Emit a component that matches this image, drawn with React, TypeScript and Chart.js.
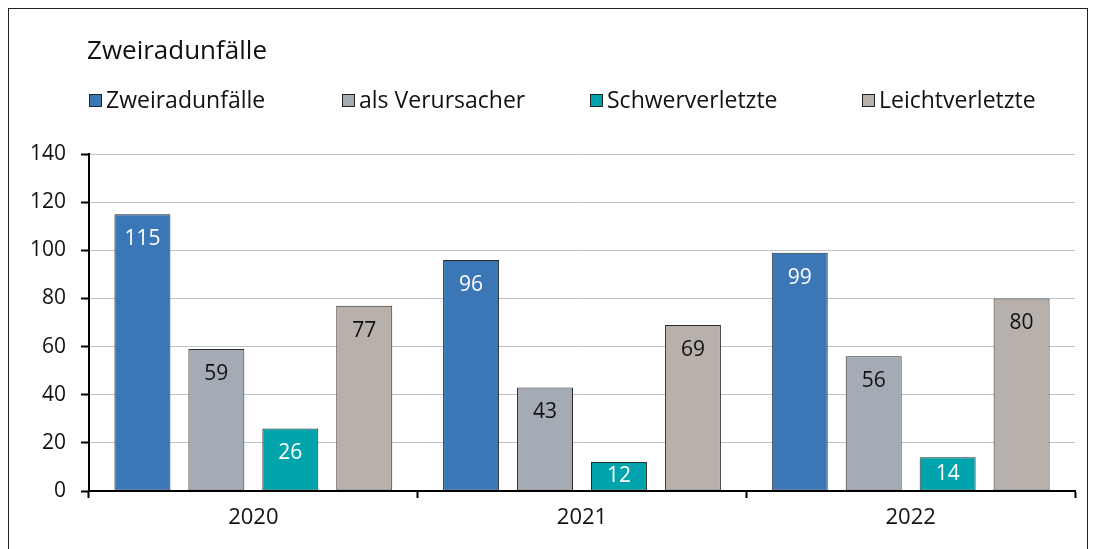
import React, { useEffect, useRef } from "react";
import { Chart, registerables } from "chart.js";

Chart.register(...registerables);

const categories = ["2020", "2021", "2022"];
const seriesNames = ["Zweiradunfälle", "als Verursacher", "Schwerverletzte", "Leichtverletzte"];
const zweiradunfaelle = [115, 96, 99];
const alsVerursacher = [59, 43, 56];
const schwerverletzte = [26, 12, 14];
const leichtverletzte = [77, 69, 80];
const seriesColors = ["#3B77B7", "#A5ABB4", "#00A4AC", "#B8B0AB"];
const labelColors = ["#FFFFFF", "#111111", "#FFFFFF", "#111111"];
const chartTitle = "Zweiradunfälle";

const FONT = "'Open Sans', Lato, sans-serif";
const legendX = [80, 333, 581, 853];

const overlayPlugin = {
  id: "overlay",
  afterDatasetsDraw(chart: any) {
    const ctx = chart.ctx;
    ctx.save();
    // data labels
    chart.data.datasets.forEach((ds: any, di: number) => {
      const meta = chart.getDatasetMeta(di);
      meta.data.forEach((bar: any, i: number) => {
        ctx.fillStyle = labelColors[di];
        ctx.font = `21px ${FONT}`;
        ctx.textAlign = "center";
        ctx.textBaseline = "middle";
        const y = Math.min(bar.y + 25, (bar.y + bar.base) / 2);
        ctx.fillText(String(ds.data[i]), bar.x, y);
      });
    });
    // title
    ctx.fillStyle = "#111111";
    ctx.font = `26px ${FONT}`;
    ctx.textAlign = "left";
    ctx.textBaseline = "middle";
    ctx.fillText(chartTitle, 78, 43);
    // legend
    seriesNames.forEach((name, i) => {
      const x = legendX[i];
      ctx.fillStyle = seriesColors[i];
      ctx.fillRect(x + 0.5, 85.5, 12, 12);
      ctx.strokeStyle = "#222222";
      ctx.lineWidth = 1;
      ctx.strokeRect(x + 0.5, 85.5, 12, 12);
      ctx.fillStyle = "#111111";
      ctx.font = `23px ${FONT}`;
      ctx.fillText(name, x + 17, 92);
    });
    ctx.restore();
  },
};

export default function App() {
  const ref = useRef<HTMLCanvasElement>(null);
  useEffect(() => {
    if (!ref.current) return;
    const values = [zweiradunfaelle, alsVerursacher, schwerverletzte, leichtverletzte];
    const chart = new Chart(ref.current, {
      type: "bar",
      data: {
        labels: categories,
        datasets: seriesNames.map((name, i) => ({
          label: name,
          data: values[i],
          backgroundColor: seriesColors[i],
          borderColor: "#2A2A2A",
          borderWidth: 1,
          borderSkipped: false,
          categoryPercentage: 0.9,
          barPercentage: 0.757,
        })),
      },
      options: {
        responsive: false,
        animation: false,
        layout: { padding: { left: 0, right: 12, top: 145, bottom: 0 } },
        plugins: {
          legend: { display: false },
          title: { display: false },
          tooltip: { enabled: false },
        },
        scales: {
          x: {
            offset: true,
            grid: {
              offset: true,
              drawOnChartArea: false,
              drawTicks: true,
              tickLength: 7,
              tickColor: "#000000",
              tickWidth: 2,
            },
            border: { color: "#000000", width: 2, z: 1 },
            ticks: { color: "#111111", font: { family: FONT, size: 22 }, padding: 7 },
            afterFit: (s: any) => { s.height = 58; },
          },
          y: {
            min: 0,
            max: 140,
            ticks: { stepSize: 20, color: "#111111", font: { family: FONT, size: 21 }, padding: 15 },
            grid: {
              color: "#BFC3C8",
              lineWidth: 1,
              tickLength: 8,
              tickColor: "#000000",
              tickWidth: 2,
            },
            border: { color: "#000000", width: 2, z: 1 },
            afterFit: (s: any) => { s.width = 80; },
          },
        },
      },
      plugins: [overlayPlugin],
    });
    return () => chart.destroy();
  }, []);
  return (
    <div
      style={{
        width: 1080,
        height: 560,
        border: "1px solid #222",
        boxSizing: "border-box",
        position: "relative",
        background: "#fff",
      }}
    >
      <canvas ref={ref} width={1078} height={540} style={{ display: "block" }} />
    </div>
  );
}
